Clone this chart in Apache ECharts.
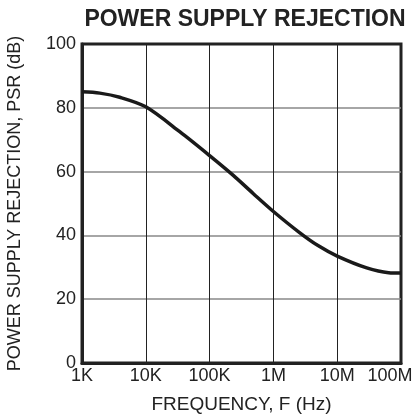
<!DOCTYPE html>
<html>
<head>
<meta charset="utf-8">
<script src="https://cdn.jsdelivr.net/npm/echarts@6/dist/echarts.min.js"></script>
<style>
  html, body { margin: 0; padding: 0; background: #fff; }
  #chart { width: 414px; height: 416px; }
</style>
</head>
<body>
<div id="chart"></div>
<script>
// frequency in Hz, PSR in dB
const freqs = [1e3, 1.9e3, 3.9e3, 1e4, 3.4e4, 1e5, 2.35e5, 4.9e5, 1e6, 2.6e6, 5e6, 1e7, 2.9e7, 6.4e7, 1e8];
const psr = [85, 84.6, 83.3, 80.3, 72.5, 65, 58.8, 53, 47.5, 40.8, 36.8, 33.5, 29.8, 28.3, 28.2];
const xTickLabels = { 1e3: '1K', 1e4: '10K', 1e5: '100K', 1e6: '1M', 1e7: '10M', 1e8: '{last|100M}' };

const font = 'Liberation Sans';
const chart = echarts.init(document.getElementById('chart'));

chart.setOption({
  animation: false,
  title: {
    text: 'POWER SUPPLY REJECTION',
    left: 240,
    top: 3,
    textAlign: 'center',
    textStyle: { fontFamily: font, fontSize: 23, fontWeight: 'bold', color: '#222' }
  },
  grid: {
    left: 82, right: 13, top: 44, bottom: 53,
    outerBoundsMode: 'none',
    show: true, borderColor: '#222', borderWidth: 3
  },
  xAxis: {
    type: 'log',
    logBase: 10,
    min: 1e3,
    max: 1e8,
    name: 'FREQUENCY, F (Hz)',
    nameLocation: 'middle',
    nameGap: 32,
    nameTextStyle: { fontFamily: font, fontSize: 19, color: '#222' },
    axisLine: { lineStyle: { color: '#222', width: 3 } },
    axisTick: { show: false },
    minorTick: { show: false },
    axisLabel: {
      fontFamily: font, fontSize: 18, color: '#222', margin: 4,
      formatter: v => xTickLabels[Math.round(v)] || '',
      rich: {
        last: { fontFamily: font, fontSize: 18, color: '#222', padding: [0, 22, 0, 0] }
      }
    },
    splitLine: { show: true, showMinLine: false, showMaxLine: false, lineStyle: { color: '#222', width: 1 } }
  },
  yAxis: {
    type: 'value',
    min: 0,
    max: 100,
    interval: 20,
    name: 'POWER SUPPLY REJECTION, PSR (dB)',
    nameLocation: 'middle',
    nameGap: 58,
    nameTextStyle: { fontFamily: font, fontSize: 18, color: '#222' },
    axisLine: { lineStyle: { color: '#222', width: 3 } },
    axisTick: { show: false },
    axisLabel: { fontFamily: font, fontSize: 18, color: '#222', margin: 6 },
    splitLine: { show: true, showMinLine: false, showMaxLine: false, lineStyle: { color: '#888', width: 1.5 } }
  },
  series: [{
    type: 'line',
    data: freqs.map((f, i) => [f, psr[i]]),
    smooth: 0.3,
    showSymbol: false,
    lineStyle: { color: '#1a1a1a', width: 3.5 }
  }]
});
</script>
</body>
</html>
